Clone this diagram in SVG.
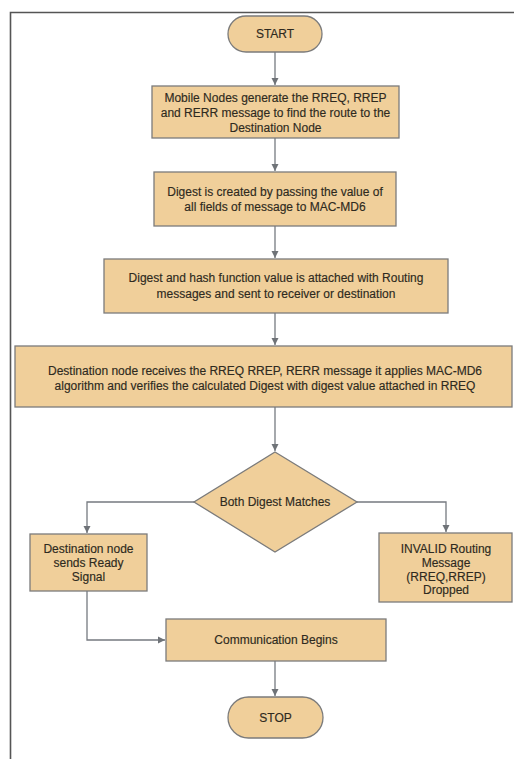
<svg xmlns="http://www.w3.org/2000/svg" width="514" height="759" viewBox="0 0 514 759">
<defs>
<marker id="ah" markerWidth="8" markerHeight="8" refX="7" refY="4" orient="auto" markerUnits="userSpaceOnUse">
<path d="M0,0.5 L7,4 L0,7.5 Z" fill="#6f7378"/>
</marker>
<style>
.n{fill:#f0cf9a;stroke:#7b7b7b;stroke-width:1.3}
.t{font-family:"Liberation Sans",Arial,sans-serif;font-size:12px;fill:#2e2a20;stroke:#2e2a20;stroke-width:0.15;text-anchor:middle}
.c{fill:none;stroke:#767a80;stroke-width:1.3;marker-end:url(#ah)}
</style>
</defs>
<rect width="514" height="759" fill="#ffffff"/>
<path d="M10.5,759 V12.5 H514" fill="none" stroke="#555555" stroke-width="1.6"/>
<g id="start">
<rect class="n" x="228" y="16" width="94" height="36" rx="18"/>
<text class="t" x="275" y="38">START</text>
</g>
<g id="generate">
<rect class="n" x="152" y="86" width="247" height="52"/>
<text class="t" x="275.5" y="102">Mobile Nodes generate the RREQ, RREP</text>
<text class="t" x="275.5" y="117">and RERR message to find the route to the</text>
<text class="t" x="275.5" y="132">Destination Node</text>
</g>
<g id="digest">
<rect class="n" x="154" y="172" width="242" height="54"/>
<text class="t" x="275" y="196">Digest is created by passing the value of</text>
<text class="t" x="275" y="211">all fields of message to MAC-MD6</text>
</g>
<g id="attach">
<rect class="n" x="104" y="259" width="344" height="54"/>
<text class="t" x="276" y="282">Digest and hash function value is attached with Routing</text>
<text class="t" x="276" y="298">messages and sent to receiver or destination</text>
</g>
<g id="receive">
<rect class="n" x="15" y="346" width="497" height="61"/>
<text class="t" x="265" y="375">Destination node receives the RREQ RREP, RERR message it applies MAC-MD6</text>
<text class="t" x="265" y="390">algorithm and verifies the calculated Digest with digest value attached in RREQ</text>
</g>
<g id="match">
<polygon class="n" points="275,452 357,502 275,552 194,502"/>
<text class="t" x="275" y="506">Both Digest Matches</text>
</g>
<g id="ready">
<rect class="n" x="30" y="534" width="117" height="57"/>
<text class="t" x="88.5" y="553">Destination node</text>
<text class="t" x="88.5" y="567">sends Ready</text>
<text class="t" x="88.5" y="581">Signal</text>
</g>
<g id="invalid">
<rect class="n" x="379" y="533" width="133" height="69"/>
<text class="t" x="446" y="553">INVALID Routing</text>
<text class="t" x="446" y="567">Message</text>
<text class="t" x="446" y="581">(RREQ,RREP)</text>
<text class="t" x="446" y="594">Dropped</text>
</g>
<g id="comm">
<rect class="n" x="166" y="619" width="220" height="42"/>
<text class="t" x="276" y="644">Communication Begins</text>
</g>
<g id="stop">
<rect class="n" x="228" y="697" width="95" height="41" rx="20.5"/>
<text class="t" x="275.5" y="722">STOP</text>
</g>
<g id="connectors">
<path class="c" d="M275,52 V85"/>
<path class="c" d="M275,138 V171"/>
<path class="c" d="M275,226 V258"/>
<path class="c" d="M275,313 V345"/>
<path class="c" d="M275,407 V451"/>
<path class="c" d="M194,502 H87 V533"/>
<path class="c" d="M357,502 H446 V532"/>
<path class="c" d="M87,591 V640 H165"/>
<path class="c" d="M275,661 V696"/>
</g>
</svg>
